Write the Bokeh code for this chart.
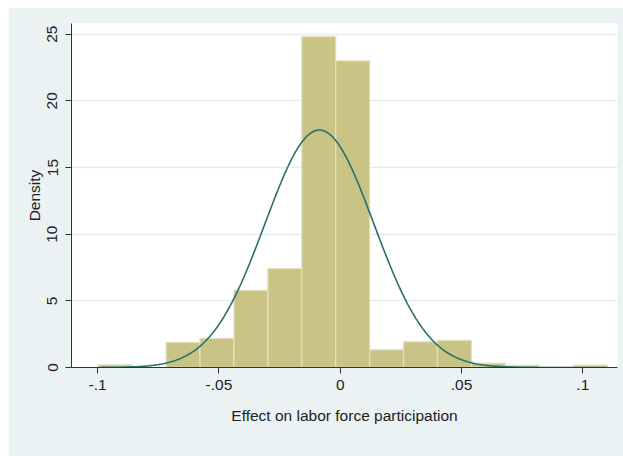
import numpy as np
from bokeh.plotting import figure
from bokeh.models import FixedTicker, Range1d
from bokeh.embed import file_html
from bokeh.resources import INLINE

# ---- data ----
bin_start = -0.0998
bin_width = 0.01399
density = [0.20, 0.0, 1.88, 2.18, 5.79, 7.42, 24.82, 23.00, 1.33, 1.93, 2.03, 0.32, 0.15, 0.0, 0.17]
normal_mean = -0.0086
normal_sd = 0.0224

x_ticks = [-0.1, -0.05, 0.0, 0.05, 0.1]
x_tick_labels = ["-.1", "-.05", "0", ".05", ".1"]
y_ticks = [0, 5, 10, 15, 20, 25]
y_tick_labels = ["0", "5", "10", "15", "20", "25"]
x_title = "Effect on labor force participation"
y_title = "Density"

# ---- derived ----
n_bins = len(density)
edges = [bin_start + i * bin_width for i in range(n_bins + 1)]
lefts = edges[:-1]
rights = edges[1:]
xs = np.linspace(edges[0], edges[-1], 400)
ys = np.exp(-0.5 * ((xs - normal_mean) / normal_sd) ** 2) / (normal_sd * np.sqrt(2 * np.pi))

BG = "#eaf2f3"
FONT = "Liberation Sans"

p = figure(width=615, height=449, output_backend="svg", toolbar_location=None,
           x_range=Range1d(-0.1108, 0.1143), y_range=Range1d(0, 25.8),
           min_border_left=63, min_border_right=6, min_border_top=16, min_border_bottom=89,
           margin=(7, 0, 0, 8))
p.background_fill_color = "white"
p.border_fill_color = BG
p.outline_line_color = None

p.quad(left=lefts, right=rights, bottom=0, top=density,
       fill_color="#c9c386", line_color="#e4e0bd", line_width=1.3)
p.line(xs, ys, line_color="#2b6f6c", line_width=1.6)

# grids
p.xgrid.visible = False
p.ygrid.grid_line_color = "#e3ecee"
p.ygrid.grid_line_width = 1.5
p.ygrid.ticker = FixedTicker(ticks=y_ticks)

# x axis
xa = p.xaxis[0]
xa.ticker = FixedTicker(ticks=x_ticks)
xa.major_label_overrides = {t: l for t, l in zip(x_ticks, x_tick_labels)}
xa.axis_label = x_title
xa.axis_label_text_font = FONT
xa.axis_label_text_font_size = "15.5px"
xa.axis_label_text_font_style = "normal"
xa.axis_label_text_color = "#222222"
xa.axis_label_standoff = 14
xa.major_label_text_font = FONT
xa.major_label_text_font_size = "15.5px"
xa.major_label_text_color = "#222222"
xa.major_label_standoff = 6
xa.major_tick_in = 0
xa.major_tick_out = 6
xa.minor_tick_out = 0
xa.minor_tick_in = 0
xa.axis_line_color = "#333333"
xa.major_tick_line_color = "#333333"

# y axis
ya = p.yaxis[0]
ya.ticker = FixedTicker(ticks=y_ticks)
ya.major_label_overrides = {t: l for t, l in zip(y_ticks, y_tick_labels)}
ya.major_label_orientation = "vertical"
ya.axis_label = y_title
ya.axis_label_text_font = FONT
ya.axis_label_text_font_size = "15.5px"
ya.axis_label_text_font_style = "normal"
ya.axis_label_text_color = "#222222"
ya.axis_label_standoff = 2
ya.major_label_text_font = FONT
ya.major_label_text_font_size = "15.5px"
ya.major_label_text_color = "#222222"
ya.major_label_standoff = 8
ya.major_tick_in = 0
ya.major_tick_out = 6
ya.minor_tick_out = 0
ya.minor_tick_in = 0
ya.axis_line_color = "#333333"
ya.major_tick_line_color = "#333333"

open("out.html", "w").write(file_html(p, INLINE))
